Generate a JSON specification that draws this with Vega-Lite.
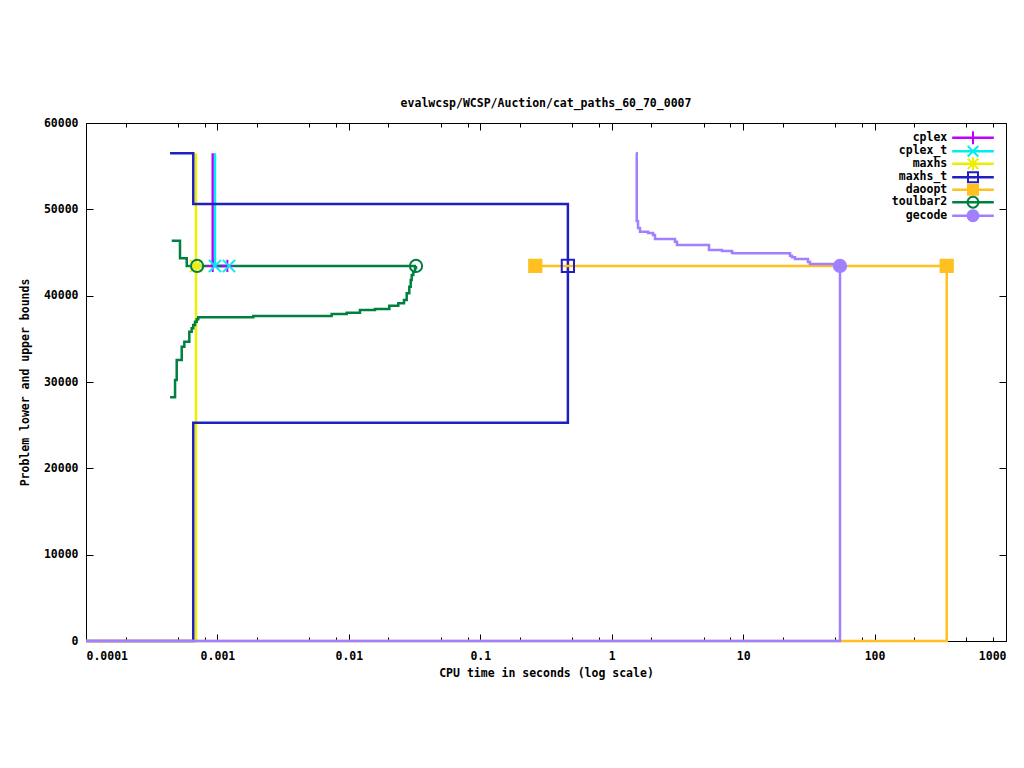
{
  "$schema": "https://vega.github.io/schema/vega-lite/v6.json",
  "width": 920,
  "height": 518,
  "autosize": {"type": "none"},
  "padding": {"left": 86, "top": 123, "right": 18, "bottom": 127},
  "background": "white",
  "title": {"text": "evalwcsp/WCSP/Auction/cat_paths_60_70_0007", "font": "DejaVu Sans Mono", "fontSize": 11.5, "fontWeight": "bold", "color": "black", "anchor": "middle", "offset": 8},
  "config": {
    "view": {"stroke": "black", "strokeWidth": 1},
    "axis": {"labelFont": "DejaVu Sans Mono", "labelFontSize": 11.5, "labelFontWeight": "bold", "labelColor": "black", "titleFont": "DejaVu Sans Mono", "titleFontSize": 11.5, "titleFontWeight": "bold", "titleColor": "black", "tickColor": "black", "tickWidth": 1, "domain": false, "grid": false}
  },
  "datasets": {
    "lines": [
      {"s": "cplex", "p": "cplex_u", "o": 1, "t": 0.000921, "v": 56490},
      {"s": "cplex", "p": "cplex_u", "o": 2, "t": 0.000921, "v": 43440},
      {"s": "cplex", "p": "cplex_u", "o": 3, "t": 0.00119, "v": 43440},
      {"s": "cplex_t", "p": "cplex_t_u", "o": 1, "t": 0.000958, "v": 56490},
      {"s": "cplex_t", "p": "cplex_t_u", "o": 2, "t": 0.000958, "v": 43440},
      {"s": "cplex_t", "p": "cplex_t_u", "o": 3, "t": 0.001225, "v": 43440},
      {"s": "maxhs", "p": "maxhs_u", "o": 1, "t": 0.000687, "v": 56490},
      {"s": "maxhs", "p": "maxhs_u", "o": 2, "t": 0.000687, "v": 43440},
      {"s": "maxhs", "p": "maxhs_l", "o": 1, "t": 0.0001, "v": 0},
      {"s": "maxhs", "p": "maxhs_l", "o": 2, "t": 0.000687, "v": 43440},
      {"s": "maxhs_t", "p": "maxhs_t_u", "o": 1, "t": 0.000436, "v": 56490},
      {"s": "maxhs_t", "p": "maxhs_t_u", "o": 2, "t": 0.000655, "v": 50620},
      {"s": "maxhs_t", "p": "maxhs_t_u", "o": 3, "t": 0.464, "v": 43440},
      {"s": "maxhs_t", "p": "maxhs_t_l", "o": 1, "t": 0.0001, "v": 0},
      {"s": "maxhs_t", "p": "maxhs_t_l", "o": 2, "t": 0.000655, "v": 25290},
      {"s": "maxhs_t", "p": "maxhs_t_l", "o": 3, "t": 0.464, "v": 43440},
      {"s": "daoopt", "p": "daoopt_u", "o": 1, "t": 0.262, "v": 43440},
      {"s": "daoopt", "p": "daoopt_u", "o": 2, "t": 354, "v": 43440},
      {"s": "daoopt", "p": "daoopt_l", "o": 1, "t": 0.0001, "v": 0},
      {"s": "daoopt", "p": "daoopt_l", "o": 2, "t": 354, "v": 43440},
      {"s": "toulbar2", "p": "tb_u", "o": 1, "t": 0.000449, "v": 46370},
      {"s": "toulbar2", "p": "tb_u", "o": 2, "t": 0.000519, "v": 44330},
      {"s": "toulbar2", "p": "tb_u", "o": 3, "t": 0.000584, "v": 43440},
      {"s": "toulbar2", "p": "tb_u", "o": 4, "t": 0.03243, "v": 43440},
      {"s": "toulbar2", "p": "tb_l", "o": 1, "t": 0.000436, "v": 28230},
      {"s": "toulbar2", "p": "tb_l", "o": 2, "t": 0.000476, "v": 30230},
      {"s": "toulbar2", "p": "tb_l", "o": 3, "t": 0.00049, "v": 32550},
      {"s": "toulbar2", "p": "tb_l", "o": 4, "t": 0.000535, "v": 34090},
      {"s": "toulbar2", "p": "tb_l", "o": 5, "t": 0.00056, "v": 34670},
      {"s": "toulbar2", "p": "tb_l", "o": 6, "t": 0.000611, "v": 35830},
      {"s": "toulbar2", "p": "tb_l", "o": 7, "t": 0.000637, "v": 36220},
      {"s": "toulbar2", "p": "tb_l", "o": 8, "t": 0.000655, "v": 36600},
      {"s": "toulbar2", "p": "tb_l", "o": 9, "t": 0.000675, "v": 36990},
      {"s": "toulbar2", "p": "tb_l", "o": 10, "t": 0.000696, "v": 37260},
      {"s": "toulbar2", "p": "tb_l", "o": 11, "t": 0.000715, "v": 37500},
      {"s": "toulbar2", "p": "tb_l", "o": 12, "t": 0.001875, "v": 37650},
      {"s": "toulbar2", "p": "tb_l", "o": 13, "t": 0.0074, "v": 37880},
      {"s": "toulbar2", "p": "tb_l", "o": 14, "t": 0.00963, "v": 38030},
      {"s": "toulbar2", "p": "tb_l", "o": 15, "t": 0.01215, "v": 38340},
      {"s": "toulbar2", "p": "tb_l", "o": 16, "t": 0.01581, "v": 38460},
      {"s": "toulbar2", "p": "tb_l", "o": 17, "t": 0.02031, "v": 38840},
      {"s": "toulbar2", "p": "tb_l", "o": 18, "t": 0.02378, "v": 39120},
      {"s": "toulbar2", "p": "tb_l", "o": 19, "t": 0.02627, "v": 39500},
      {"s": "toulbar2", "p": "tb_l", "o": 20, "t": 0.02755, "v": 40280},
      {"s": "toulbar2", "p": "tb_l", "o": 21, "t": 0.02883, "v": 41040},
      {"s": "toulbar2", "p": "tb_l", "o": 22, "t": 0.02955, "v": 41820},
      {"s": "toulbar2", "p": "tb_l", "o": 23, "t": 0.03007, "v": 42400},
      {"s": "toulbar2", "p": "tb_l", "o": 24, "t": 0.03093, "v": 42780},
      {"s": "toulbar2", "p": "tb_l", "o": 25, "t": 0.03186, "v": 43200},
      {"s": "toulbar2", "p": "tb_l", "o": 26, "t": 0.03243, "v": 43440},
      {"s": "gecode", "p": "ge_u", "o": 1, "t": 1.53, "v": 56490},
      {"s": "gecode", "p": "ge_u", "o": 2, "t": 1.55, "v": 48650},
      {"s": "gecode", "p": "ge_u", "o": 3, "t": 1.585, "v": 47840},
      {"s": "gecode", "p": "ge_u", "o": 4, "t": 1.641, "v": 47410},
      {"s": "gecode", "p": "ge_u", "o": 5, "t": 1.889, "v": 47260},
      {"s": "gecode", "p": "ge_u", "o": 6, "t": 2.062, "v": 47030},
      {"s": "gecode", "p": "ge_u", "o": 7, "t": 2.135, "v": 46570},
      {"s": "gecode", "p": "ge_u", "o": 8, "t": 3.03, "v": 46250},
      {"s": "gecode", "p": "ge_u", "o": 9, "t": 3.138, "v": 45870},
      {"s": "gecode", "p": "ge_u", "o": 10, "t": 5.499, "v": 45290},
      {"s": "gecode", "p": "ge_u", "o": 11, "t": 6.905, "v": 45180},
      {"s": "gecode", "p": "ge_u", "o": 12, "t": 8.227, "v": 44980},
      {"s": "gecode", "p": "ge_u", "o": 13, "t": 8.373, "v": 44910},
      {"s": "gecode", "p": "ge_u", "o": 14, "t": 22.73, "v": 44630},
      {"s": "gecode", "p": "ge_u", "o": 15, "t": 23.53, "v": 44450},
      {"s": "gecode", "p": "ge_u", "o": 16, "t": 24.8, "v": 44250},
      {"s": "gecode", "p": "ge_u", "o": 17, "t": 31.14, "v": 43900},
      {"s": "gecode", "p": "ge_u", "o": 18, "t": 32.25, "v": 43670},
      {"s": "gecode", "p": "ge_u", "o": 19, "t": 54.57, "v": 43440},
      {"s": "gecode", "p": "ge_l", "o": 1, "t": 0.0001, "v": 0},
      {"s": "gecode", "p": "ge_l", "o": 2, "t": 54.57, "v": 43440}
    ],
    "marks": [
      {"s": "cplex", "t": 0.000921, "v": 43440},
      {"s": "cplex", "t": 0.00119, "v": 43440},
      {"s": "cplex_t", "t": 0.000958, "v": 43440},
      {"s": "cplex_t", "t": 0.001225, "v": 43440},
      {"s": "maxhs", "t": 0.000687, "v": 43440},
      {"s": "maxhs_t", "t": 0.464, "v": 43440},
      {"s": "daoopt", "t": 0.262, "v": 43440},
      {"s": "daoopt", "t": 354, "v": 43440},
      {"s": "toulbar2", "t": 0.0007, "v": 43440},
      {"s": "toulbar2", "t": 0.03243, "v": 43440},
      {"s": "gecode", "t": 54.57, "v": 43440}
    ]
  },
  "resolve": {
    "scale": {"stroke": "independent", "fill": "independent", "shape": "independent", "color": "independent"},
    "axis": {"x": "independent", "y": "independent"}
  },
  "layer": [
    {
      "data": {"name": "lines"},
      "mark": {"type": "line", "interpolate": "step-after", "strokeWidth": 2.5},
      "encoding": {
        "x": {"field": "t", "type": "quantitative", "scale": {"type": "log", "domain": [0.0001, 1000], "nice": false},
              "axis": {"orient": "bottom", "values": [0.0001, 0.001, 0.01, 0.1, 1, 10, 100, 1000], "format": "~g", "tickSize": -7, "labelPadding": 16, "title": "CPU time in seconds (log scale)", "titleY": 32, "titleBaseline": "middle"}},
        "y": {"field": "v", "type": "quantitative", "scale": {"domain": [0, 60000], "nice": false, "zero": false},
              "axis": {"orient": "left", "values": [0, 10000, 20000, 30000, 40000, 50000, 60000], "format": "d", "tickSize": -7, "labelPadding": 15, "title": "Problem lower and upper bounds", "titleX": -61, "titleBaseline": "middle", "titleAlign": "center"}},
        "detail": {"field": "p"},
        "order": {"field": "o", "type": "quantitative"},
        "color": {"field": "s", "type": "nominal", "legend": null,
                  "scale": {"domain": ["cplex", "cplex_t", "maxhs", "maxhs_t", "daoopt", "toulbar2", "gecode"], "range": ["#c000ff", "#00eeee", "#eeee00", "#2020c0", "#ffc020", "#008040", "#a080ff"]}}
      }
    },
    {
      "data": {"name": "marks"},
      "mark": {"type": "point", "size": 150, "strokeWidth": 2, "opacity": 1},
      "encoding": {
        "x": {"field": "t", "type": "quantitative", "axis": {"orient": "top", "values": [0.0001, 0.001, 0.01, 0.1, 1, 10, 100, 1000], "labels": false, "tickSize": -7, "title": null}},
        "y": {"field": "v", "type": "quantitative", "axis": {"orient": "right", "values": [0, 10000, 20000, 30000, 40000, 50000, 60000], "labels": false, "tickSize": -7, "title": null}},
        "stroke": {"field": "s", "type": "nominal", "legend": null,
                   "scale": {"domain": ["cplex", "cplex_t", "maxhs", "maxhs_t", "daoopt", "toulbar2", "gecode"], "range": ["#c000ff", "#00eeee", "#eeee00", "#2020c0", "#ffc020", "#008040", "#a080ff"]}},
        "fill": {"field": "s", "type": "nominal", "legend": null,
                 "scale": {"domain": ["cplex", "cplex_t", "maxhs", "maxhs_t", "daoopt", "toulbar2", "gecode"], "range": ["transparent", "transparent", "transparent", "transparent", "#ffc020", "transparent", "#a080ff"]}},
        "shape": {"field": "s", "type": "nominal", "legend": null,
                  "scale": {"domain": ["cplex", "cplex_t", "maxhs", "maxhs_t", "daoopt", "toulbar2", "gecode"], "range": ["M-1,0L1,0M0,-1L0,1", "M-1,-1L1,1M-1,1L1,-1", "M-1,0L1,0M0,-1L0,1M-1,-1L1,1M-1,1L1,-1", "M-1,-1L1,-1L1,1L-1,1Z", "M-1,-1L1,-1L1,1L-1,1Z", "circle", "circle"]}}
      }
    },
    {
      "data": {"name": "marks"},
      "transform": [{"filter": "false"}],
      "mark": {"type": "point", "filled": true, "size": 64, "strokeWidth": 0, "opacity": 1},
      "encoding": {
        "x": {"field": "t", "type": "quantitative", "axis": {"orient": "bottom", "values": [0.0002, 0.0005, 0.0008, 0.002, 0.005, 0.008, 0.02, 0.05, 0.08, 0.2, 0.5, 0.8, 2, 5, 8, 20, 50, 80, 200, 500, 800], "labels": false, "tickSize": -4, "title": null}},
        "y": {"field": "v", "type": "quantitative", "axis": null},
        "color": {"field": "s", "type": "nominal",
                  "scale": {"domain": ["cplex", "cplex_t", "maxhs", "maxhs_t", "daoopt", "toulbar2", "gecode"], "range": ["#c000ff", "#00eeee", "#eeee00", "#2020c0", "#ffc020", "#008040", "#a080ff"]},
                  "legend": {"title": null, "orient": "none", "legendX": 881.25, "legendY": 9, "padding": 0, "rowPadding": -0.5, "symbolSize": 64, "symbolStrokeWidth": 0, "symbolOpacity": 1, "labelFont": "DejaVu Sans Mono", "labelFontSize": 11.5, "labelFontWeight": "bold", "labelColor": "black", "labelAlign": "right", "labelOffset": -31.5, "labelLimit": 0}},
        "shape": {"field": "s", "type": "nominal",
                  "scale": {"domain": ["cplex", "cplex_t", "maxhs", "maxhs_t", "daoopt", "toulbar2", "gecode"], "range": [
                    "M-5.2,-0.31L5.2,-0.31L5.2,0.31L-5.2,0.31ZM-0.25,-1.6L0.25,-1.6L0.25,1.6L-0.25,1.6Z",
                    "M-5.2,-0.31L5.2,-0.31L5.2,0.31L-5.2,0.31ZM-1.5,-1.15L-1.15,-1.5L1.5,1.15L1.15,1.5ZM1.15,-1.5L1.5,-1.15L-1.15,1.5L-1.5,1.15Z",
                    "M-5.2,-0.31L5.2,-0.31L5.2,0.31L-5.2,0.31ZM-0.25,-1.6L0.25,-1.6L0.25,1.6L-0.25,1.6ZM-1.5,-1.15L-1.15,-1.5L1.5,1.15L1.15,1.5ZM1.15,-1.5L1.5,-1.15L-1.15,1.5L-1.5,1.15Z",
                    "M-5.2,-0.31L5.2,-0.31L5.2,0.31L-5.2,0.31ZM-1.5,-1.5L1.5,-1.5L1.5,1.5L-1.5,1.5ZM-1,-1L-1,1L1,1L1,-1Z",
                    "M-5.2,-0.31L5.2,-0.31L5.2,0.31L-5.2,0.31ZM-1.5,-1.5L1.5,-1.5L1.5,1.5L-1.5,1.5Z",
                    "M-5.2,-0.31L5.2,-0.31L5.2,0.31L-5.2,0.31ZM1.6,0A1.6,1.6,0,1,1,-1.6,0A1.6,1.6,0,1,1,1.6,0ZM1.1,0A1.1,1.1,0,1,0,-1.1,0A1.1,1.1,0,1,0,1.1,0Z",
                    "M-5.2,-0.31L5.2,-0.31L5.2,0.31L-5.2,0.31ZM1.6,0A1.6,1.6,0,1,1,-1.6,0A1.6,1.6,0,1,1,1.6,0Z"]}}
      }
    },
    {
      "data": {"name": "marks"},
      "mark": {"type": "point", "opacity": 0},
      "encoding": {
        "x": {"field": "t", "type": "quantitative", "axis": {"orient": "top", "values": [0.0002, 0.0005, 0.0008, 0.002, 0.005, 0.008, 0.02, 0.05, 0.08, 0.2, 0.5, 0.8, 2, 5, 8, 20, 50, 80, 200, 500, 800], "labels": false, "tickSize": -4, "title": null}},
        "y": {"field": "v", "type": "quantitative", "axis": null}
      }
    }
  ]
}
